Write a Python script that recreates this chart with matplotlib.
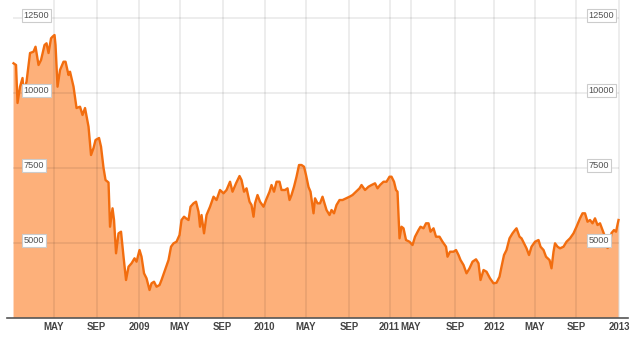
import matplotlib
matplotlib.use("Agg")
import matplotlib.pyplot as plt

plt.rcParams['font.family'] = ['Liberation Sans', 'DejaVu Sans']

# trading-session index (x) and index level (y)
sessions = [1, 6, 9, 14, 19, 21, 27, 34, 41, 45, 51, 56, 63, 67, 71, 76, 79, 83, 85, 89,
            94, 101, 105, 111, 114, 121, 127, 134, 139, 144, 151, 156, 161, 165, 172, 176,
            181, 185, 191, 194, 199, 202, 206, 211, 216, 221, 226, 231, 237, 243, 247, 253,
            257, 262, 267, 273, 277, 282, 287, 293, 297, 304, 311, 316, 321, 327, 333, 337,
            342, 346, 351, 355, 361, 366, 371, 374, 377, 382, 387, 394, 401, 407, 414, 421,
            427, 434, 439, 446, 453, 457, 462, 467, 473, 477, 481, 484, 489, 494, 501, 506,
            513, 517, 522, 527, 533, 537, 544, 549, 553, 557, 562, 567, 572, 577, 582, 586,
            591, 595, 601, 604, 609, 614, 619, 624, 627, 633, 637, 642, 647, 653, 659, 666,
            673, 679, 686, 693, 697, 704, 711, 717, 724, 729, 734, 741, 747, 753, 757, 762,
            766, 769, 773, 777, 781, 786, 793, 799, 804, 811, 815, 821, 826, 831, 835, 841,
            846, 853, 859, 866, 869, 874, 881, 886, 891, 895, 901, 907, 913, 919, 926, 931,
            935, 941, 947, 954, 961, 967, 973, 977, 982, 987, 993, 999, 1004, 1007, 1013,
            1017, 1022, 1027, 1032, 1037, 1044, 1051, 1055, 1061, 1066, 1073, 1077, 1081,
            1084, 1089, 1094, 1101, 1107, 1114, 1121, 1127, 1134, 1139, 1144, 1149, 1154,
            1159, 1164, 1169, 1174, 1179, 1184, 1189, 1193, 1197, 1202, 1206, 1211]
values = [11000, 10943, 9677, 10220, 10510, 10053, 10387, 11343, 11387, 11553, 10943, 11110,
          11610, 11667, 11343, 11833, 11887, 11943, 11610, 10220, 10777, 11053, 11053, 10610,
          10720, 10220, 9510, 9553, 9277, 9510, 8887, 7943, 8177, 8443, 8510, 8220, 7510,
          7110, 7027, 5553, 6167, 5777, 4667, 5333, 5387, 4553, 3777, 4220, 4333, 4500, 4387,
          4777, 4553, 4000, 3833, 3443, 3667, 3720, 3553, 3610, 3777, 4110, 4443, 4887, 5000,
          5053, 5277, 5777, 5887, 5833, 5777, 6220, 6333, 6387, 6053, 5553, 5943, 5333, 5943,
          6220, 6553, 6443, 6777, 6667, 6777, 7053, 6720, 7000, 7243, 7110, 6720, 6833, 6387,
          6277, 5887, 6333, 6610, 6387, 6220, 6443, 6720, 6943, 6720, 7053, 7053, 6777, 6777,
          6833, 6443, 6610, 6887, 7220, 7610, 7610, 7553, 7277, 6877, 6720, 6000, 6500, 6333,
          6333, 6553, 6277, 6110, 5943, 6110, 6000, 6277, 6443, 6443, 6500, 6553, 6610, 6720,
          6833, 6943, 6777, 6887, 6943, 7000, 6833, 6943, 7053, 7053, 7220, 7220, 7053, 6777,
          6720, 5167, 5553, 5500, 5110, 5053, 4943, 5220, 5443, 5553, 5500, 5667, 5667, 5387,
          5500, 5220, 5220, 5053, 4887, 4553, 4720, 4720, 4777, 4610, 4443, 4277, 4000, 4167,
          4387, 4467, 4333, 3777, 4110, 4053, 3833, 3667, 3687, 3887, 4220, 4610, 4777, 5167,
          5333, 5443, 5500, 5220, 5167, 5000, 4833, 4610, 4887, 5053, 5110, 4887, 4777, 4553,
          4443, 4167, 4720, 5000, 4887, 4833, 4887, 5053, 5167, 5333, 5553, 5833, 6000, 6000,
          5720, 5777, 5667, 5833, 5610, 5667, 5443, 5220, 4843, 4910, 5343, 5443, 5387, 5777]

tick_pos = [81, 167, 252, 334, 419, 503, 586, 672, 753, 796, 884, 962, 1044, 1126, 1212]
tick_labels = ['MAY', 'SEP', '2009', 'MAY', 'SEP', '2010', 'MAY', 'SEP', '2011', 'MAY',
               'SEP', '2012', 'MAY', 'SEP', '2013']
y_ticks = [5000, 7500, 10000, 12500]
y_labels = ['5000', '7500', '10000', '12500']

LINE = '#f26d0f'
FILL = '#fdb07a'

fig = plt.figure(figsize=(6.35, 3.46), dpi=100)
ax = fig.add_axes([0.0106, 0.080, 0.9784, 0.920])

ax.fill_between(sessions, values, 0, color=FILL, lw=0, zorder=1)
ax.plot(sessions, values, color=LINE, lw=1.7, zorder=3, solid_joinstyle='round')

ax.set_xlim(-12.6, 1230)
ax.set_ylim(2500, 13110)

# grid
for t in tick_pos:
    ax.axvline(t, color='black', alpha=0.08, lw=1.3, zorder=2)
ax.hlines(y_ticks, sessions[0] - 1, sessions[-1], color='black', alpha=0.08, lw=1.3, zorder=2)

ax.set_xticks(tick_pos)
ax.set_xticklabels(tick_labels, fontsize=6.9, fontweight='bold', color='#444444')
ax.tick_params(axis='x', length=0, pad=3)
ax.set_yticks([])

for s in ['top', 'left', 'right']:
    ax.spines[s].set_visible(False)
ax.spines['bottom'].set_color('#555555')
ax.spines['bottom'].set_linewidth(1.2)

box = dict(boxstyle='square,pad=0.18', fc='white', ec='#cccccc', lw=0.8)
for v, lab in zip(y_ticks, y_labels):
    for xf in (0.0275, 0.9365):
        ax.annotate(lab, xy=(xf, v), xycoords=('axes fraction', 'data'),
                    xytext=(0, 2.0), textcoords='offset points',
                    ha='left', va='center', fontsize=6.6, color='#505050',
                    bbox=box, zorder=5)

fig.savefig('out.png', dpi=100)
